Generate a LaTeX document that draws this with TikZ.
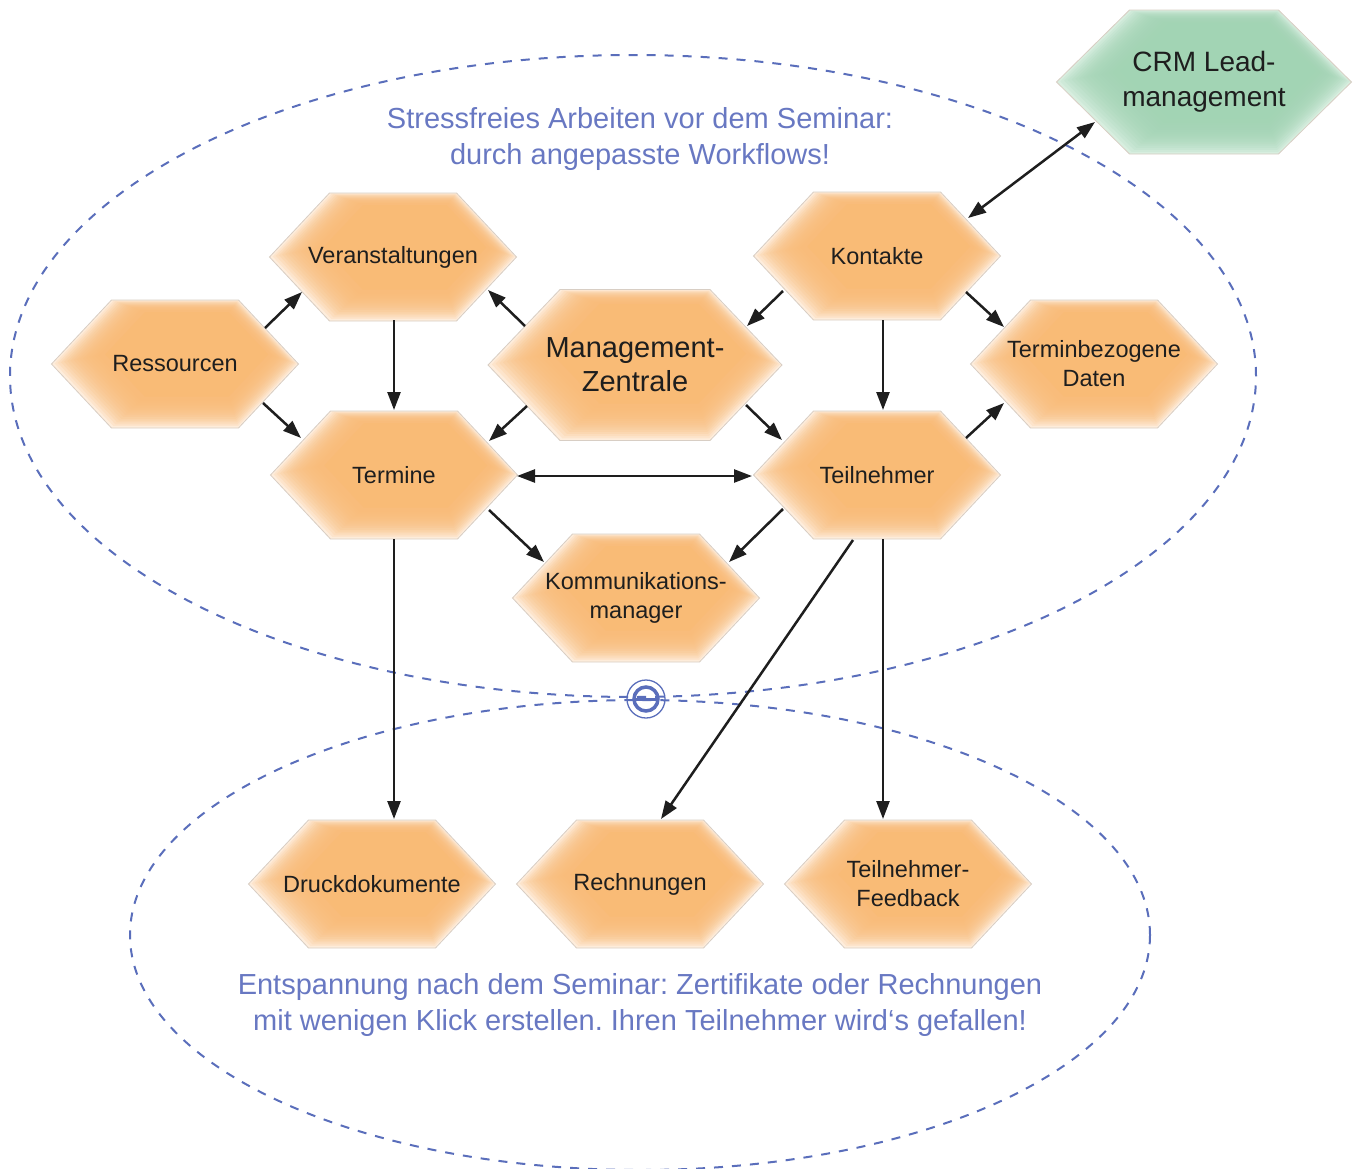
\documentclass[tikz,border=0pt]{standalone}
\usepackage{fontspec}
\setmainfont{Liberation Sans}
\frenchspacing
\usetikzlibrary{arrows.meta}
\definecolor{orcore}{HTML}{F9BB76}
\definecolor{oredge}{HTML}{FFF7F0}
\definecolor{grcore}{HTML}{A2D4B4}
\definecolor{gredge}{HTML}{E2F3E8}
\definecolor{hexline}{HTML}{D8CEC4}
\definecolor{dashblue}{HTML}{5A6EBB}
\definecolor{textblue}{HTML}{6878C2}
\definecolor{ink}{HTML}{1E1E1E}
% hexagon outline: options, x, y, width, height, inset
\newcommand\hexp[6]{\path[#1] ({#2-#4/2},#3) -- ({#2-#4/2+#6},{#3-#5/2}) -- ({#2+#4/2-#6},{#3-#5/2}) -- ({#2+#4/2},#3) -- ({#2+#4/2-#6},{#3+#5/2}) -- ({#2-#4/2+#6},{#3+#5/2}) -- cycle;}
% hexagon node: name, x, y, width, height, inset, colour prefix, text, text style
\newcommand\hexa[9]{%
 \hexp{fill=#7edge}{#2}{#3}{#4}{#5}{#6}%
 \foreach \k in {0,...,15}{%
   \pgfmathsetmacro\hexsc{1.0-0.02*\k}%
   \hexp{fill=#7core, fill opacity=0.16, scale around={\hexsc:({#2+0.14*#4},{#3-0.22*#5})}}{#2}{#3}{#4}{#5}{#6}}%
 \hexp{fill=#7core, scale around={0.66:({#2+0.14*#4},{#3-0.22*#5})}}{#2}{#3}{#4}{#5}{#6}%
 \hexp{draw=hexline, line width=0.8pt}{#2}{#3}{#4}{#5}{#6}%
 \node[hextext,#9] (#1) at (#2,#3) {#8};}
\tikzset{
 hextext/.style={align=center, text=ink, inner sep=0pt, font=\fontsize{23.5}{29}\selectfont},
 bigtext/.style={font=\fontsize{29}{34}\selectfont},
 crmtext/.style={font=\fontsize{28}{35}\selectfont},
 plain/.style={},
 titletext/.style={align=center, text=textblue, inner sep=0pt, font=\fontsize{29}{36}\selectfont},
 ring/.style={draw=dashblue, line width=2pt, dash pattern=on 9pt off 9pt},
 arr/.style={-{Triangle[length=18pt,width=13pt]}, line width=2.5pt, draw=ink},
 darr/.style={{Triangle[length=18pt,width=13pt]}-{Triangle[length=18pt,width=13pt]}, line width=2.5pt, draw=ink},
}
\begin{document}
\begin{tikzpicture}[x=1pt,y=-1pt]
\useasboundingbox (0,0) rectangle (1355,1168);
\clip (0,0) rectangle (1355,1168);
% ellipses
\draw[ring] (633,376) ellipse [x radius=623pt, y radius=321pt];
\draw[ring] (640,935) ellipse [x radius=510pt, y radius=235pt];
% join symbol
\draw[dashblue, line width=1.3pt] (646,699) circle [radius=19pt];
\draw[dashblue, line width=3.5pt] (646,699) circle [radius=12pt];
\draw[dashblue, line width=3pt] (634,699) -- (658,699);
% titles
\node[titletext] (title1) at (640,139) {Stressfreies Arbeiten vor dem Seminar:\\durch angepasste Workflows!};
\node[titletext] (title2) at (640,1005) {Entspannung nach dem Seminar: Zertifikate oder Rechnungen\\mit wenigen Klick erstellen. Ihren Teilnehmer wird‘s gefallen!};
% hexagons
\hexa{crm}{1204}{82}{295}{144}{73}{gr}{CRM Lead-\\management}{crmtext}
\hexa{vera}{393}{257}{247}{128}{60}{or}{Veranstaltungen}{plain}
\hexa{ress}{175}{364}{247}{128}{60}{or}{Ressourcen}{plain}
\hexa{term}{394}{475}{247}{128}{60}{or}{Termine}{plain}
\hexa{mgmt}{635}{365}{294}{151}{72}{or}{Management-\\Zentrale}{bigtext}
\hexa{kont}{877}{256}{247}{128}{60}{or}{Kontakte}{plain}
\hexa{tbd}{1094}{364}{247}{128}{60}{or}{Terminbezogene\\Daten}{plain}
\hexa{teil}{877}{475}{247}{128}{60}{or}{Teilnehmer}{plain}
\hexa{komm}{636}{598}{247}{128}{60}{or}{Kommunikations-\\manager}{plain}
\hexa{druck}{372}{884}{247}{128}{60}{or}{Druckdokumente}{plain}
\hexa{rech}{640}{884}{247}{128}{60}{or}{Rechnungen}{plain}
\hexa{feed}{908}{884}{247}{128}{60}{or}{Teilnehmer-\\Feedback}{plain}
% arrows
\draw[arr] ([shift={(90,-36)}]ress.center) -- ([shift={(-91,35)}]vera.center);
\draw[arr] ([shift={(88,39)}]ress.center) -- ([shift={(-93,-37)}]term.center);
\draw[arr] ([shift={(-110,-39)}]mgmt.center) -- ([shift={(95,33)}]vera.center);
\draw[arr] ([shift={(-108,41)}]mgmt.center) -- ([shift={(95,-34)}]term.center);
\draw[arr] ([shift={(-94,35)}]kont.center) -- ([shift={(112,-39)}]mgmt.center);
\draw[arr] ([shift={(111,40)}]mgmt.center) -- ([shift={(-95,-35)}]teil.center);
\draw[arr] ([shift={(1,63)}]vera.center) -- ([shift={(0,-65)}]term.center);
\draw[arr] ([shift={(6,64)}]kont.center) -- ([shift={(6,-65)}]teil.center);
\draw[arr] ([shift={(89,36)}]kont.center) -- ([shift={(-90,-37)}]tbd.center);
\draw[arr] ([shift={(89,-37)}]teil.center) -- ([shift={(-90,39)}]tbd.center);
\draw[darr] ([shift={(123,1)}]term.center) -- ([shift={(-125,1)}]teil.center);
\draw[arr] ([shift={(95,35)}]term.center) -- ([shift={(-92,-36)}]komm.center);
\draw[arr] ([shift={(-94,34)}]teil.center) -- ([shift={(93,-36)}]komm.center);
\draw[arr] ([shift={(0,64)}]term.center) -- ([shift={(22,-65)}]druck.center);
\draw[arr] ([shift={(-24,65)}]teil.center) -- ([shift={(21,-65)}]rech.center);
\draw[arr] ([shift={(6,64)}]teil.center) -- ([shift={(-25,-65)}]feed.center);
\draw[darr] ([shift={(91,-38)}]kont.center) -- ([shift={(-109,40)}]crm.center);
\end{tikzpicture}
\end{document}
